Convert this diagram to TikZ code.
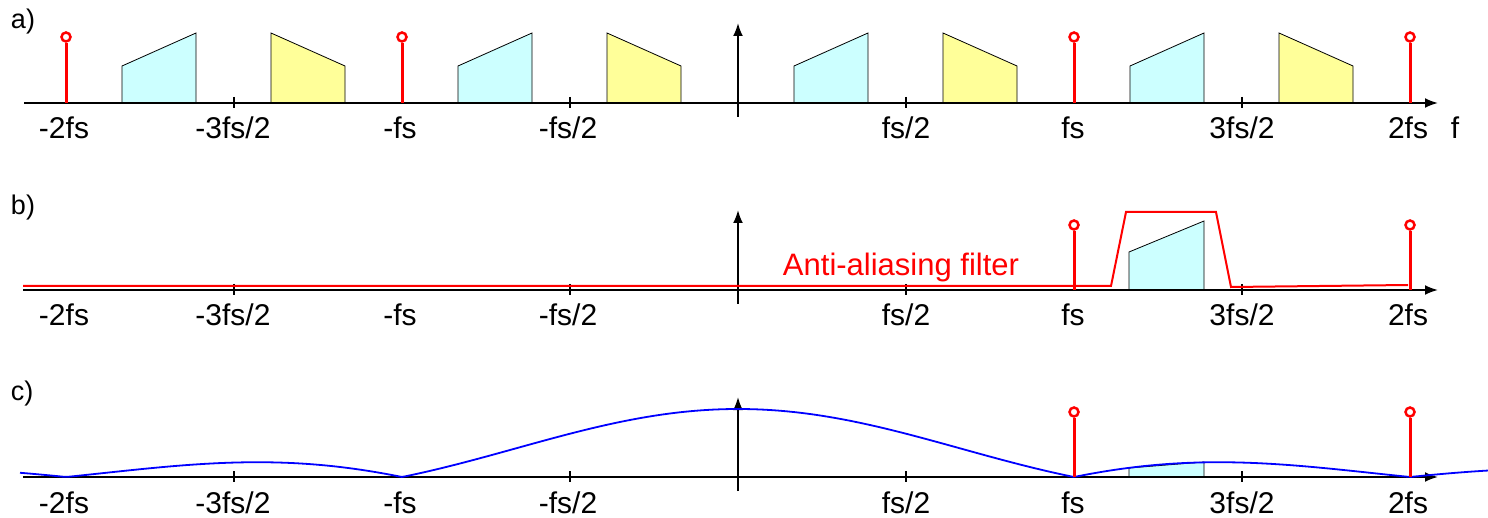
\documentclass[tikz,border=0pt]{standalone}
\usepackage{fontspec}
\setmainfont{Liberation Sans}
\usetikzlibrary{arrows.meta}
\definecolor{cyanfill}{HTML}{CCFFFF}
\definecolor{yellowfill}{HTML}{FFFF99}
\definecolor{stemred}{HTML}{FF0000}
\definecolor{curveblue}{HTML}{0000FF}
\begin{document}
\begin{tikzpicture}[x=1pt,y=-1pt,
  axisline/.style={line width=2pt,black,-{Latex[length=13pt,width=10pt]}},
  vaxis/.style={line width=2pt,black,-{Latex[length=13pt,width=10pt]}},
  tickmark/.style={line width=1.4pt,black},
  stemline/.style={line width=3pt,stemred},
  stemhead/.style={circle,draw=stemred,line width=2.5pt,fill=white,minimum size=9pt,inner sep=0pt},
  cyanband/.style={fill=cyanfill,draw=black,line width=0.8pt},
  yellowband/.style={fill=yellowfill,draw=black,line width=0.8pt},
  lbl/.style={anchor=base,inner sep=0pt,font=\fontsize{30}{36}\selectfont},
  panel/.style={anchor=center,inner sep=0pt,font=\fontsize{27}{32}\selectfont},
  filterline/.style={line width=2pt,stemred},
  sinc/.style={line width=1.8pt,curveblue}
]
\useasboundingbox (0,0) rectangle (1488,518);

% ---------- panel a ----------
\node[panel] (pa) at (23,22) {a)};
\foreach \c in {66,402,738,1074} {
  \filldraw[cyanband] (\c+56,103) -- (\c+56,66) -- (\c+130,33) -- (\c+130,103) -- cycle;
}
\foreach \c in {402,738,1074,1410} {
  \filldraw[yellowband] (\c-131,103) -- (\c-131,33) -- (\c-57,66) -- (\c-57,103) -- cycle;
}
\coordinate (a0) at (24,103);
\coordinate (a1) at (1438,103);
\draw[axisline] (a0) -- (a1);
\coordinate (av0) at (738,117);
\coordinate (av1) at (738,23);
\draw[vaxis] (av0) -- (av1);
\foreach \t in {234,570,906,1242} \draw[tickmark] (\t,97) -- (\t,108);
\foreach \s/\n in {66/am2,402/am1,1074/ap1,1410/ap2} {
  \node[stemhead] (\n) at (\s,37) {};
  \coordinate (\n b) at (\s,103);
  \draw[stemline] (\n b) -- (\n.south);
}
\node[lbl] (la1) at (64,139) {-2fs};
\node[lbl] (la2) at (233,139) {-3fs/2};
\node[lbl] (la3) at (400,139) {-fs};
\node[lbl] (la4) at (568,139) {-fs/2};
\node[lbl] (la5) at (906,139) {fs/2};
\node[lbl] (la6) at (1073,139) {fs};
\node[lbl] (la7) at (1242,139) {3fs/2};
\node[lbl] (la8) at (1408,139) {2fs};
\node[lbl] (la9) at (1455,139) {f};

% ---------- panel b ----------
\node[panel] (pb) at (23,208) {b)};
\filldraw[cyanband] (1129,290) -- (1129,252) -- (1204,221) -- (1204,290) -- cycle;
\coordinate (b0) at (23,290);
\coordinate (b1) at (1438,290);
\draw[axisline] (b0) -- (b1);
\coordinate (bv0) at (738,304);
\coordinate (bv1) at (738,210);
\draw[vaxis] (bv0) -- (bv1);
\foreach \t in {234,570,906,1242} \draw[tickmark] (\t,284) -- (\t,295);
\coordinate (f0) at (23,286);
\coordinate (f1) at (1111,286);
\coordinate (f2) at (1126,212);
\coordinate (f3) at (1216,212);
\coordinate (f4) at (1231,287);
\coordinate (f5) at (1408,285);
\draw[filterline,line join=miter] (f0) -- (f1) -- (f2) -- (f3) -- (f4) -- (f5);
\node[anchor=base,inner sep=0pt,text=stemred,font=\fontsize{31}{36}\selectfont] (ftxt) at (901,276) {Anti-aliasing filter};
\foreach \s/\n in {1074/bp1,1410/bp2} {
  \node[stemhead] (\n) at (\s,225) {};
  \coordinate (\n b) at (\s,290);
  \draw[stemline] (\n b) -- (\n.south);
}
\node[lbl] (lb1) at (64,326) {-2fs};
\node[lbl] (lb2) at (233,326) {-3fs/2};
\node[lbl] (lb3) at (400,326) {-fs};
\node[lbl] (lb4) at (568,326) {-fs/2};
\node[lbl] (lb5) at (906,326) {fs/2};
\node[lbl] (lb6) at (1073,326) {fs};
\node[lbl] (lb7) at (1242,326) {3fs/2};
\node[lbl] (lb8) at (1408,326) {2fs};

% ---------- panel c ----------
\node[panel] (pc) at (22,394) {c)};
\filldraw[cyanband] (1129,477) -- (1129,468) -- (1204,462) -- (1204,477) -- cycle;
\coordinate (c0) at (23,477);
\coordinate (c1) at (1438,477);
\draw[axisline] (c0) -- (c1);
\coordinate (cv0) at (738,491);
\coordinate (cv1) at (738,397);
\draw[vaxis] (cv0) -- (cv1);
\foreach \t in {234,570,906,1242} \draw[tickmark] (\t,471) -- (\t,482);
\draw[sinc] plot[domain=20:1488,samples=401]
  (\x,{477-68*abs(sin(((\x-738)/336)*180)/(pi*((\x-738)/336)))});
\foreach \s/\n in {1074/cp1,1410/cp2} {
  \node[stemhead] (\n) at (\s,412) {};
  \coordinate (\n b) at (\s,477);
  \draw[stemline] (\n b) -- (\n.south);
}
\node[lbl] (lc1) at (64,513) {-2fs};
\node[lbl] (lc2) at (233,513) {-3fs/2};
\node[lbl] (lc3) at (400,513) {-fs};
\node[lbl] (lc4) at (568,513) {-fs/2};
\node[lbl] (lc5) at (906,513) {fs/2};
\node[lbl] (lc6) at (1073,513) {fs};
\node[lbl] (lc7) at (1242,513) {3fs/2};
\node[lbl] (lc8) at (1408,513) {2fs};
\end{tikzpicture}
\end{document}
